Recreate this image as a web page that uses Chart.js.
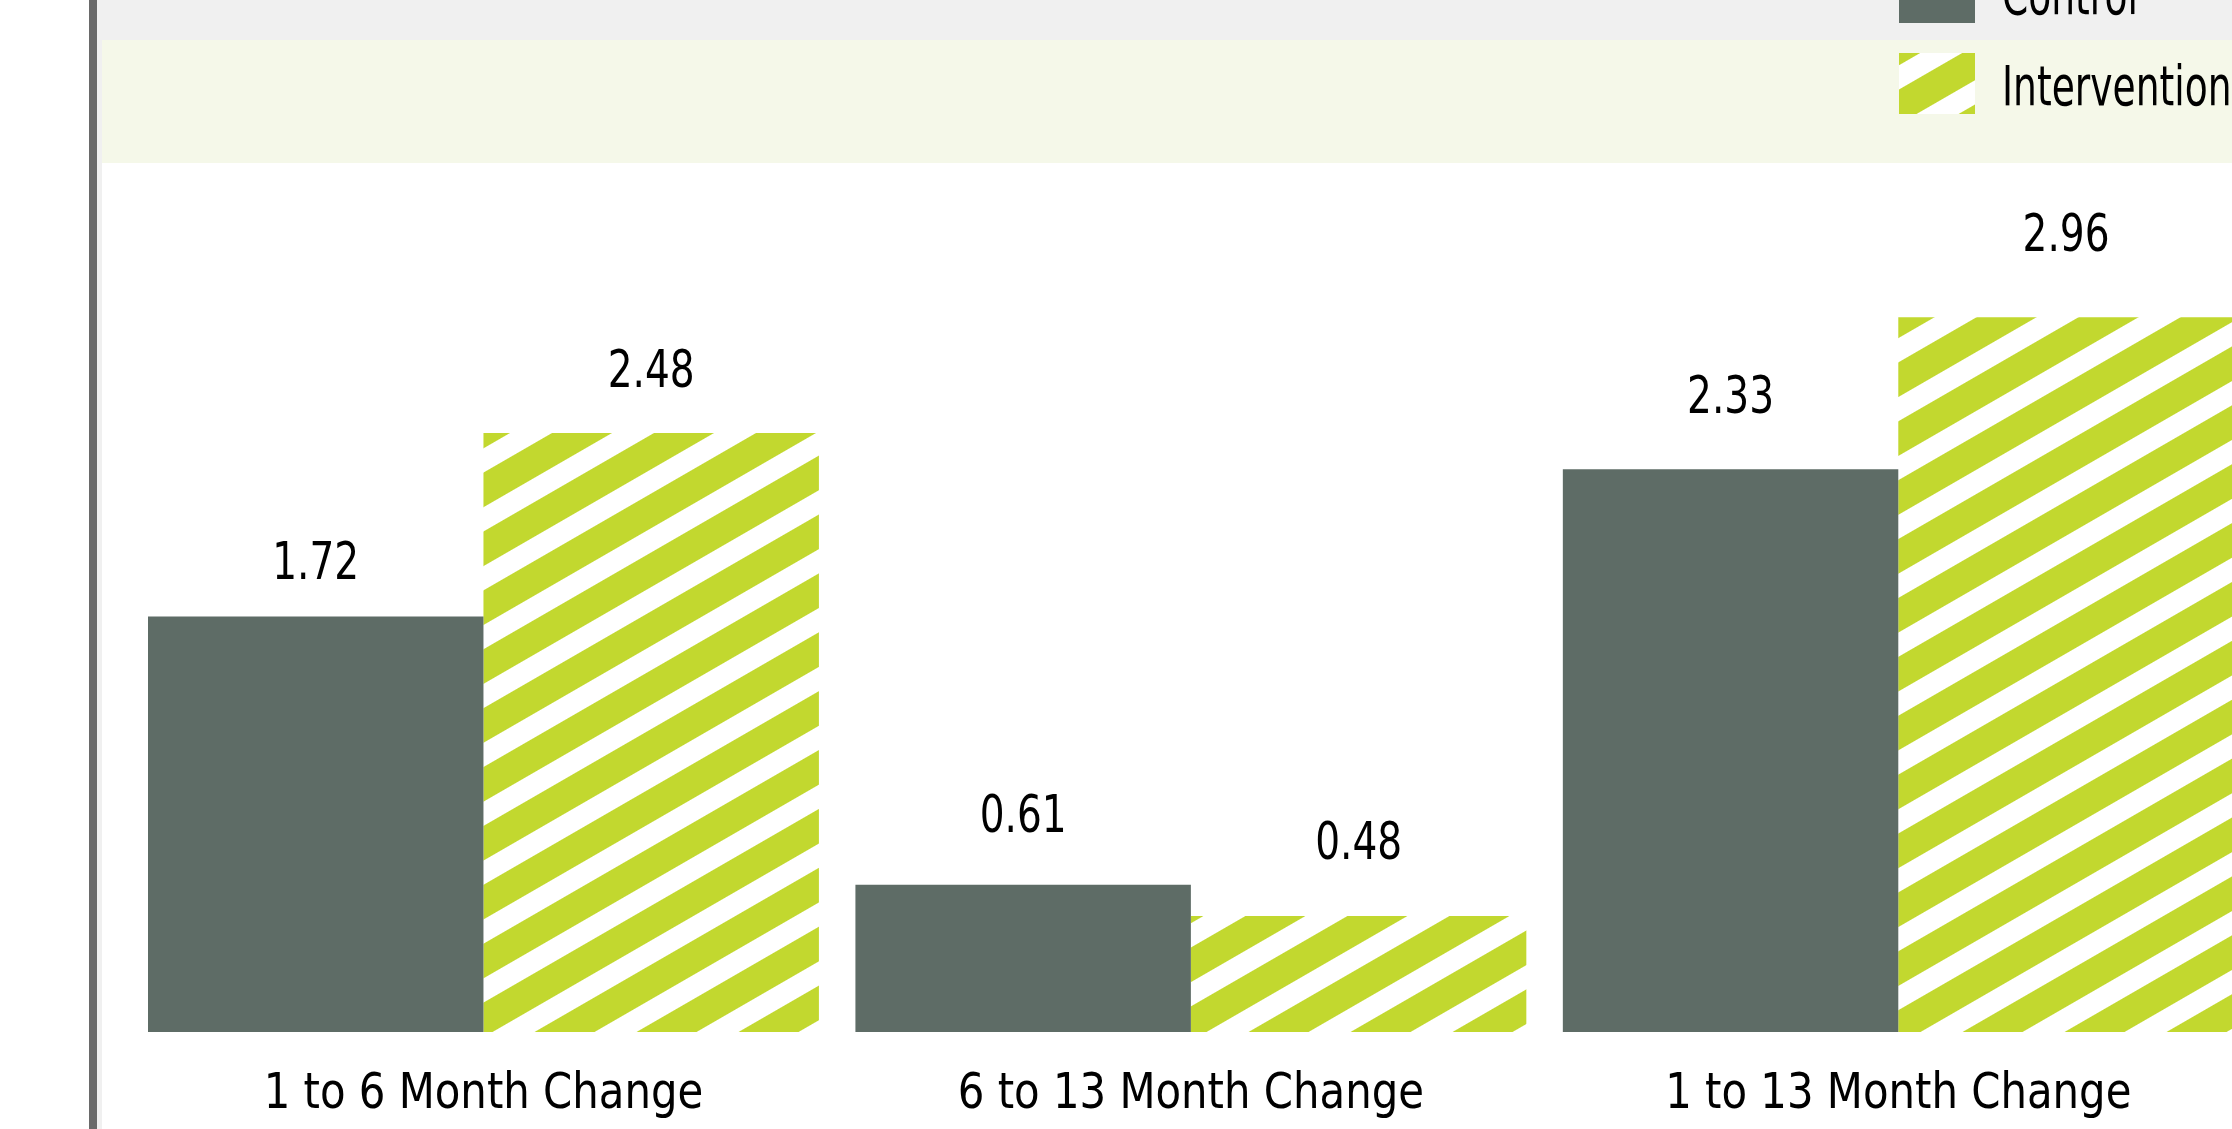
<!DOCTYPE html>
<html>
<head>
<meta charset="utf-8">
<script src="https://cdn.jsdelivr.net/npm/chart.js@4"></script>
<style>
  html, body { margin: 0; padding: 0; background: #fff; overflow: hidden; }
  #wrap { position: absolute; left: 0; top: 0; width: 2260px; height: 1129px; }
</style>
</head>
<body>
<div id="wrap"><canvas id="mycanvas" width="2260" height="1129"></canvas></div>
<script>
// chart data
var categories = ['1 to 6 Month Change', '6 to 13 Month Change', '1 to 13 Month Change'];
var seriesNames = ['Control', 'Intervention'];
var controlValues = [1.72, 0.61, 2.33];
var interventionValues = [2.48, 0.48, 2.96];

var FONT = "'DejaVu Sans Condensed', 'DejaVu Sans', sans-serif";
var darkGreen = '#5e6c66';
var lime = '#c2d82f';

// diagonal hatch: lime with white stripes, rising to the right
function makeHatch(ctx, shift) {
    var tile = document.createElement('canvas');
    tile.width = 51;
    tile.height = 51;
    var t = tile.getContext('2d');
    t.fillStyle = '#ffffff';
    t.fillRect(0, 0, 51, 51);
    t.fillStyle = lime;
    t.fillRect(0, 0, 51, 30);
    var pat = ctx.createPattern(tile, 'repeat');
    pat.setTransform(new DOMMatrix().rotate(-30).translate(0, shift));
    return pat;
}

// the source font is a narrow one, so squeeze the text sideways
function narrowText(c, text, x, y, size, sx, align) {
    c.save();
    c.font = size + 'px ' + FONT;
    c.textAlign = align;
    c.textBaseline = 'alphabetic';
    c.fillStyle = '#000';
    c.translate(x, y);
    c.scale(sx, 1);
    c.fillText(text, 0, 0);
    c.restore();
}

var ctx = document.getElementById('mycanvas').getContext('2d');
var barHatch = makeHatch(ctx, -12);
var legendHatch = makeHatch(ctx, 7);

var backdrop = {
    id: 'backdrop',
    beforeDraw: function(chart) {
        var c = chart.ctx;
        var w = chart.width, h = chart.height;
        c.save();
        c.fillStyle = '#ffffff';
        c.fillRect(0, 0, w, h);
        c.fillStyle = '#f0f0f0';
        c.fillRect(97, 0, w - 97, 40);
        c.fillRect(97, 0, 5, h);
        c.fillStyle = '#f5f8e9';
        c.fillRect(102, 40, w - 102, 123);
        c.fillStyle = '#6a6a6a';
        c.fillRect(89, 0, 8, h);
        c.restore();
    }
};

// value labels sit a little higher over the later groups in the original
var valueLabels = {
    id: 'valueLabels',
    afterDatasetsDraw: function(chart, args, opts) {
        chart.data.datasets.forEach(function(ds, i) {
            var meta = chart.getDatasetMeta(i);
            meta.data.forEach(function(bar, j) {
                narrowText(chart.ctx, ds.data[j].toFixed(2), bar.x, bar.y - opts.gaps[i][j], 52, 0.835, 'center');
            });
        });
    }
};

var categoryLabels = {
    id: 'categoryLabels',
    afterDraw: function(chart) {
        var xs = chart.scales.x;
        for (var i = 0; i < categories.length; i++) {
            narrowText(chart.ctx, categories[i], xs.getPixelForTick(i), chart.chartArea.bottom + 76, 50, 0.93, 'center');
        }
    }
};

var sideLegend = {
    id: 'sideLegend',
    afterDraw: function(chart) {
        var c = chart.ctx;
        var fills = [darkGreen, legendHatch];
        var tops = [-38, 53];
        for (var i = 0; i < seriesNames.length; i++) {
            c.save();
            c.fillStyle = fills[i];
            c.fillRect(1899, tops[i], 76, 61);
            c.restore();
            narrowText(c, seriesNames[i], 2002, tops[i] + 52, 55, 0.76, 'left');
        }
    }
};

var chartdata = {
    labels: categories,
    datasets: [
        {
            label: seriesNames[0],
            data: controlValues,
            backgroundColor: darkGreen,
            borderWidth: 0,
            barPercentage: 1.0,
            categoryPercentage: 0.9484
        },
        {
            label: seriesNames[1],
            data: interventionValues,
            backgroundColor: barHatch,
            borderWidth: 0,
            barPercentage: 1.0,
            categoryPercentage: 0.9484
        }
    ]
};

var config = {
    type: 'bar',
    data: chartdata,
    options: {
        responsive: false,
        animation: false,
        devicePixelRatio: 1,
        layout: { padding: { left: 129.75, right: 8, top: 186.75, bottom: 97 } },
        plugins: {
            legend: { display: false },
            tooltip: { enabled: false },
            valueLabels: { gaps: [[38, 53, 56], [46, 57, 66]] }
        },
        scales: {
            x: {
                grid: { display: false, drawTicks: false },
                border: { display: false },
                ticks: { display: false }
            },
            y: {
                display: false,
                min: 0,
                max: 3.5
            }
        }
    },
    plugins: [backdrop, valueLabels, categoryLabels, sideLegend]
};

var barGraph = new Chart(ctx, config);
</script>
</body>
</html>
